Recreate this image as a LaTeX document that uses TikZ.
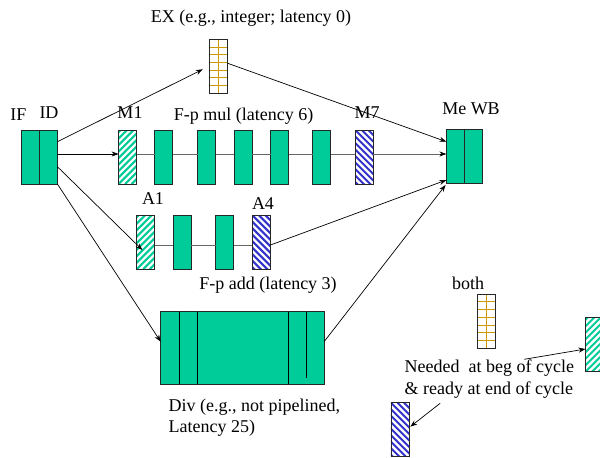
\documentclass[tikz,border=0pt]{standalone}
\usepackage{fontspec}
\setmainfont{Liberation Serif}
\usetikzlibrary{arrows.meta}
\definecolor{stg}{RGB}{0,204,153}
\definecolor{hblue}{RGB}{51,51,204}
\definecolor{gold}{RGB}{204,153,0}
\begin{document}
\begin{tikzpicture}[x=1pt,y=-1pt,
  font=\fontsize{18}{21.6}\selectfont,
  box/.style={draw=black!85, minimum width=18pt, minimum height=54pt, inner sep=0pt, outer sep=0pt, line width=0.8pt},
  stage/.style={box, fill=stg},
  ghatch/.style={box, fill=white, path picture={
      \foreach \k in {-65,-58.5,...,24}{\draw[stg, line width=2pt] ([xshift=\k pt]path picture bounding box.south west) -- ++(80pt,80pt);}}},
  bhatch/.style={box, fill=white, path picture={
      \foreach \k in {-65,-58.5,...,24}{\draw[hblue, line width=2pt] ([xshift=\k pt]path picture bounding box.north west) -- ++(80pt,-80pt);}}},
  gridbox/.style={box, fill=white, path picture={
      \foreach \v in {7.71,15.43,23.14,30.86,38.57,46.29}{\draw[gold, line width=0.9pt] ([yshift=-\v pt]path picture bounding box.north west) -- ++(18pt,0pt);}
      \draw[gold, line width=0.9pt] ([xshift=9pt]path picture bounding box.north west) -- ++(0pt,-54pt);}},
  lbl/.style={inner sep=0pt},
  conn/.style={line width=0.7pt, -{Stealth[length=7pt,width=5pt]}},
  pipe/.style={line width=0.8pt, draw=black!60}]
\useasboundingbox (0,0) rectangle (600,458);

% IF / ID
\node[stage] (IF) at (30.2,157) {};
\node[stage] (ID) at (48.4,157) {};
\node[lbl] (lIF) at (18.5,115) {IF};
\node[lbl] (lID) at (49,113) {ID};

% EX
\node[gridbox] (EX) at (218.7,66.3) {};
\node[lbl] (lEX) at (251,18.3) {EX (e.g., integer; latency 0)};

% multiplier
\node[ghatch] (M1) at (127.6,157) {};
\node[stage] (M2) at (163.8,157) {};
\node[stage] (M3) at (206.7,157) {};
\node[stage] (M4) at (243,157) {};
\node[stage] (M5) at (279.6,157) {};
\node[stage] (M6) at (321.7,157) {};
\node[bhatch] (M7) at (364.3,157) {};
\node[lbl] (lM1) at (130,113) {M1};
\node[lbl] (lM7) at (367,113) {M7};
\node[lbl] (lmul) at (243.5,115.7) {F-p mul (latency 6)};

% Me / WB
\node[stage] (Me) at (455.4,156.3) {};
\node[stage] (WB) at (473.2,156.3) {};
\node[lbl] (lMeWB) at (471,109) {Me WB};

% adder
\node[ghatch] (A1) at (145.8,242.1) {};
\node[stage] (A2) at (182.4,242.1) {};
\node[stage] (A3) at (224.8,242.1) {};
\node[bhatch] (A4) at (261.2,242.1) {};
\node[lbl] (lA1) at (153,199) {A1};
\node[lbl] (lA4) at (263,204) {A4};
\node[lbl] (ladd) at (268,285) {F-p add (latency 3)};

% divider
\node[box, fill=stg, minimum width=163.4pt, minimum height=72.3pt] (Div) at (242.4,347.9) {};
\foreach \xs in {18.4,36.4,127.9}{
  \draw[line width=0.8pt] ([xshift=\xs pt]Div.north west) -- ([xshift=\xs pt]Div.south west);}
\draw[line width=0.8pt] ([xshift=145.5pt]Div.north west) -- ([xshift=145.5pt,yshift=6pt]Div.south west);
\node[lbl, anchor=west, align=left] (lDiv) at (168.4,417.5) {Div (e.g., not pipelined,\\Latency 25)};

% pipeline lines
\foreach \a/\b in {M1/M2,M2/M3,M3/M4,M4/M5,M5/M6,M6/M7}{
  \draw[pipe] ([yshift=3pt]\a.east) -- ([yshift=3pt]\b.west);}
\foreach \a/\b in {A1/A2,A2/A3,A3/A4}{
  \draw[pipe] ([yshift=-3pt]\a.east) -- ([yshift=-3pt]\b.west);}

% connectors
\draw[conn] ([yshift=15.3pt]ID.east) -- ([xshift=-6.9pt,yshift=-3pt]EX.west);
\draw[conn] ([yshift=3pt]EX.east) -- ([yshift=14.6pt]Me.west);
\draw[conn] ([yshift=3pt]ID.east) -- ([yshift=3pt]M1.west);
\draw[pipe] ([yshift=3pt]M7.east) -- ([xshift=-6pt,yshift=2.3pt]Me.west);
\draw[conn] ([xshift=-6pt,yshift=2.3pt]Me.west) -- ([yshift=2.3pt]Me.west);
\draw[conn] ([yshift=-9.7pt]ID.east) -- ([xshift=-3.4pt,yshift=-7.9pt]A1.center);
\draw[conn] ([yshift=-3pt]A4.east) -- ([yshift=-23.7pt]Me.west);
\draw[conn] (ID.south east) -- ([yshift=6.2pt]Div.west);
\draw[conn] ([yshift=6.2pt]Div.east) -- ([xshift=-0.8pt,yshift=-1.7pt]Me.south west);

% legend
\node[lbl] (lboth) at (468,283) {both};
\node[gridbox] (LGrid) at (486,321.2) {};
\node[ghatch] (LG) at (594.5,344.7) {};
\node[bhatch] (LB) at (399.9,429.7) {};
\node[lbl, anchor=west, align=left] (lneed) at (404.5,379.2) {Needed\ \ at beg of cycle\\\& ready at end of cycle};
\coordinate (n1) at (524.3,359.3);
\coordinate (n2) at (440.1,403.3);
\draw[conn] (n1) -- ([yshift=-4.3pt]LG.west);
\draw[conn] (n2) -- ([xshift=1.4pt,yshift=3pt]LB.east);
\end{tikzpicture}
\end{document}
